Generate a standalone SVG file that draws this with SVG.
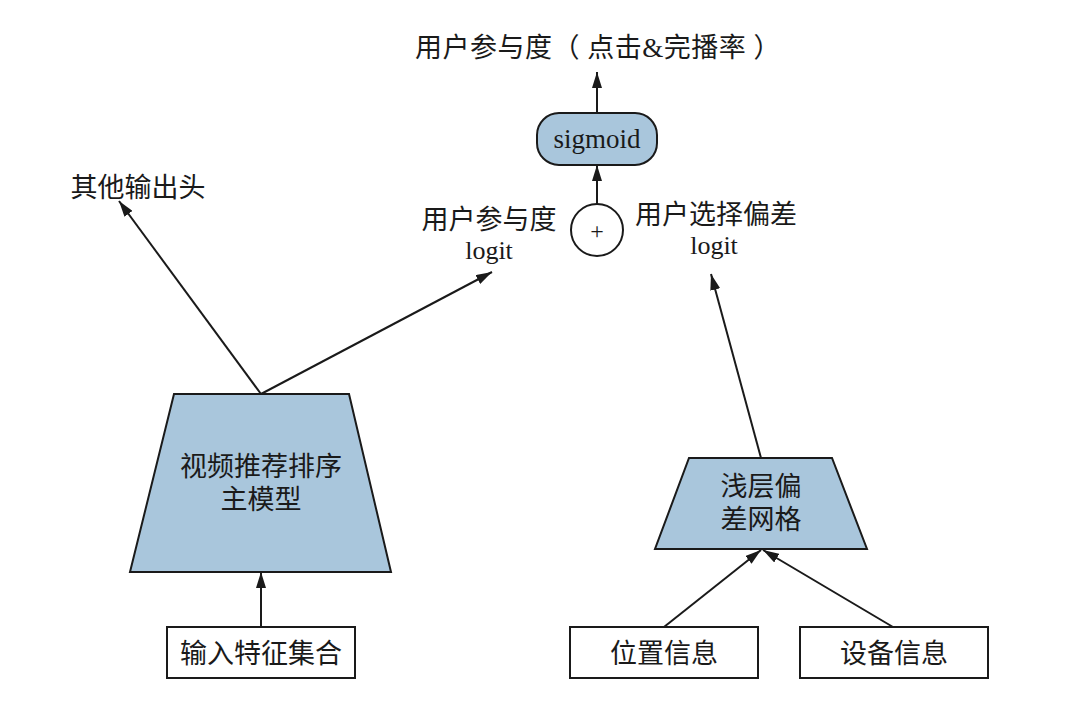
<svg xmlns="http://www.w3.org/2000/svg" width="1080" height="707" viewBox="0 0 1080 707">
<defs>
<style>
.t{font-family:"Liberation Serif","Noto Sans CJK SC",serif;font-size:27px;fill:#1a1a1a;text-anchor:middle}
.s{fill:#a9c6dc;stroke:#1a1a1a;stroke-width:2}
.b{fill:#fff;stroke:#1a1a1a;stroke-width:2}
.c line{stroke:#1a1a1a;stroke-width:2;marker-end:url(#ah)}
</style>
<marker id="ah" viewBox="0 0 16 10" refX="16" refY="5" markerWidth="16" markerHeight="10" markerUnits="userSpaceOnUse" orient="auto">
<path d="M0,0 L16,5 L0,10 z" fill="#1a1a1a"/>
</marker>
</defs>
<rect width="1080" height="707" fill="#fff"/>
<g id="connectors" class="c">
<line x1="597" y1="113" x2="597" y2="72"/>
<line x1="597" y1="204" x2="597" y2="165"/>
<line x1="261" y1="394" x2="119" y2="201"/>
<line x1="261" y1="394" x2="492" y2="272"/>
<line x1="761" y1="458" x2="711" y2="274"/>
<line x1="261" y1="627" x2="261" y2="572"/>
<line x1="664" y1="627" x2="761" y2="550"/>
<line x1="893" y1="627" x2="763" y2="550"/>
</g>
<g id="title"><text class="t" x="598" y="57" style="letter-spacing:0.5px">用户参与度（ 点击&amp;完播率 ）</text></g>
<g id="sigmoid"><rect class="s" x="537" y="113" width="120" height="52" rx="22"/><text class="t" x="597" y="148">sigmoid</text></g>
<g id="plus"><circle cx="597" cy="230" r="26" fill="#fff" stroke="#1a1a1a" stroke-width="2"/><text class="t" x="597" y="239" style="font-size:24px">+</text></g>
<g id="engage-logit"><text class="t" x="489" y="229">用户参与度</text><text class="t" x="489" y="259" style="font-size:26px">logit</text></g>
<g id="bias-logit"><text class="t" x="716" y="224">用户选择偏差</text><text class="t" x="714" y="254" style="font-size:26px">logit</text></g>
<g id="other-heads"><text class="t" x="138" y="197">其他输出头</text></g>
<g id="main-model"><polygon class="s" points="174,394 349,394 391,572 130,572"/><text class="t" x="261" y="476">视频推荐排序</text><text class="t" x="261" y="509">主模型</text></g>
<g id="input"><rect class="b" x="167" y="627" width="188" height="51"/><text class="t" x="261" y="663">输入特征集合</text></g>
<g id="bias-net"><polygon class="s" points="689,458 832,458 867,549 655,549"/><text class="t" x="761" y="496">浅层偏</text><text class="t" x="761" y="529">差网格</text></g>
<g id="position"><rect class="b" x="570" y="627" width="188" height="51"/><text class="t" x="664" y="663">位置信息</text></g>
<g id="device"><rect class="b" x="800" y="627" width="188" height="51"/><text class="t" x="894" y="663">设备信息</text></g>
</svg>
